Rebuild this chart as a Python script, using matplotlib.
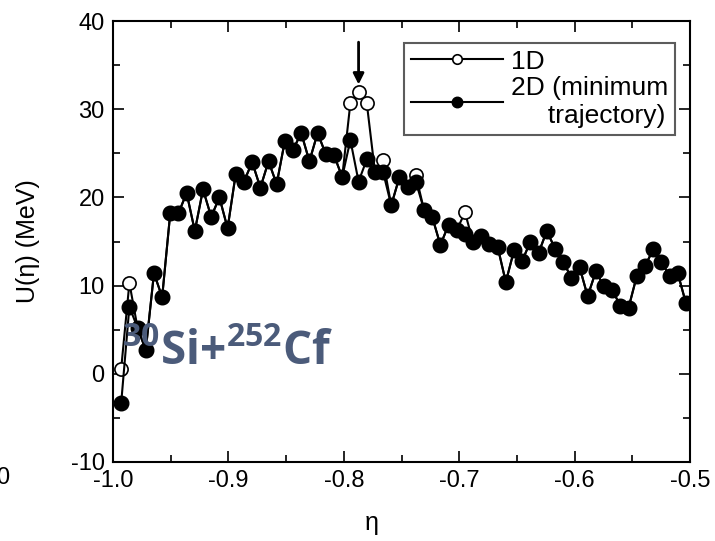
import matplotlib
matplotlib.use("Agg")
import matplotlib.pyplot as plt
from matplotlib.ticker import MultipleLocator

plt.rcParams["font.family"] = ["Liberation Sans", "DejaVu Sans"]
plt.rcParams["mathtext.fontset"] = "custom"
plt.rcParams["mathtext.rm"] = "Open Sans:bold"
plt.rcParams["mathtext.bf"] = "Open Sans:bold"

# Mass asymmetry eta for fragment masses 1..70 of the A = 282 system
eta = [-0.9929, -0.9858, -0.9787, -0.9716, -0.9645, -0.9574, -0.9504, -0.9433,
       -0.9362, -0.9291, -0.9220, -0.9149, -0.9078, -0.9007, -0.8936, -0.8865,
       -0.8794, -0.8723, -0.8652, -0.8582, -0.8511, -0.8440, -0.8369, -0.8298,
       -0.8227, -0.8156, -0.8085, -0.8014, -0.7943, -0.7872, -0.7801, -0.7730,
       -0.7660, -0.7589, -0.7518, -0.7447, -0.7376, -0.7305, -0.7234, -0.7163,
       -0.7092, -0.7021, -0.6950, -0.6879, -0.6809, -0.6738, -0.6667, -0.6596,
       -0.6525, -0.6454, -0.6383, -0.6312, -0.6241, -0.6170, -0.6099, -0.6028,
       -0.5957, -0.5887, -0.5816, -0.5745, -0.5674, -0.5603, -0.5532, -0.5461,
       -0.5390, -0.5319, -0.5248, -0.5177, -0.5106, -0.5035]

# Driving potential along the minimum-energy (2D) trajectory, MeV
u_2d = [-3.3, 7.6, 5.2, 2.7, 11.4, 8.7, 18.2, 18.2,
        20.5, 16.2, 20.9, 17.8, 20.0, 16.5, 22.7, 21.8,
        24.0, 21.1, 24.1, 21.5, 26.4, 25.4, 27.3, 24.1,
        27.3, 24.9, 24.8, 22.3, 26.5, 21.8, 24.3, 22.9,
        22.9, 19.1, 22.3, 21.2, 21.8, 18.6, 17.8, 14.6,
        16.9, 16.3, 15.9, 14.9, 15.6, 14.7, 14.4, 10.4,
        14.0, 12.8, 15.0, 13.7, 16.2, 14.2, 12.7, 10.9,
        12.1, 8.8, 11.6, 9.9, 9.5, 7.7, 7.5, 11.1,
        12.2, 14.1, 12.7, 11.1, 11.4, 8.0]

# One-dimensional potential, MeV
u_1d = [0.6, 10.3, 5.2, 2.7, 11.4, 8.7, 18.2, 18.2,
        20.5, 16.2, 20.9, 17.8, 20.0, 16.5, 22.7, 21.8,
        24.0, 21.1, 24.1, 21.5, 26.4, 25.4, 27.3, 24.1,
        27.3, 24.9, 24.8, 22.3, 30.7, 32.0, 30.7, 22.9,
        24.2, 19.1, 22.3, 21.2, 22.5, 18.6, 17.8, 14.6,
        16.9, 16.3, 18.3, 14.9, 15.6, 14.7, 14.4, 10.4,
        14.0, 12.8, 15.0, 13.7, 16.2, 14.2, 12.7, 10.9,
        12.1, 8.8, 11.6, 9.9, 9.5, 7.7, 7.5, 11.1,
        12.2, 14.1, 12.7, 11.1, 11.4, 8.0]

x_ticks = [-1.0, -0.9, -0.8, -0.7, -0.6, -0.5]
x_tick_labels = ["-1.0", "-0.9", "-0.8", "-0.7", "-0.6", "-0.5"]
y_ticks = [-10, 0, 10, 20, 30, 40]
y_tick_labels = ["-10", "0", "10", "20", "30", "40"]

W, H = 715, 541
fig = plt.figure(figsize=(W / 100, H / 100), dpi=100)
ax = fig.add_axes([113 / W, 1 - 462 / H, 577 / W, 441 / H])

ax.plot(eta, u_1d, color="black", lw=1.5, marker="o", ms=9.5,
        mfc="white", mec="black", mew=1.2, label="1D", zorder=2)
ax.plot(eta, u_2d, color="black", lw=1.5, marker="o", ms=10.5,
        mfc="black", mec="black", label="2D (minimum\n     trajectory)", zorder=3)

# Arrow marking the 1D barrier peak
ax.annotate("", xy=(eta[29], 32.8), xytext=(eta[29], 37.6),
            arrowprops=dict(arrowstyle="-|>", color="black", lw=2,
                            mutation_scale=16, shrinkA=0, shrinkB=0))

ax.set_xlim(-1.0, -0.5)
ax.set_ylim(-10, 40)
ax.set_xticks(x_ticks)
ax.set_xticklabels(x_tick_labels)
ax.set_yticks(y_ticks)
ax.set_yticklabels(y_tick_labels)
ax.xaxis.set_minor_locator(MultipleLocator(0.05))
ax.yaxis.set_minor_locator(MultipleLocator(5))
ax.tick_params(which="both", direction="in", top=True, right=True,
               width=1.2, labelsize=17, colors="black")
ax.tick_params(which="major", length=8, pad=6)
ax.tick_params(which="minor", length=5)
for s in ax.spines.values():
    s.set_linewidth(1.5)

ax.set_ylabel("U(η) (MeV)", fontsize=18, labelpad=22)
fig.text(372 / W, 1 - 523 / H, "η", fontsize=18, ha="center", va="center")

leg = ax.legend(loc="upper right", bbox_to_anchor=(0.974, 0.950),
                borderaxespad=0, fontsize=19, frameon=True, fancybox=False,
                handlelength=3.5, markerscale=0.72, labelspacing=0.1,
                borderpad=0.25, handletextpad=0.3)
leg.get_frame().set_edgecolor("#333333")
leg.get_frame().set_linewidth(1.5)

ax.text(-0.992, 1.0, r"$^{30}$Si+$^{252}$Cf", fontsize=33,
        fontfamily="Open Sans", fontweight="bold", color="#4b5b7a",
        ha="left", va="baseline", zorder=5)

# Edge of a neighbouring tick label
fig.text(-0.006, 1 - 478 / H, "0", fontsize=17, ha="left", va="center")

fig.savefig("out.png", dpi=100)
